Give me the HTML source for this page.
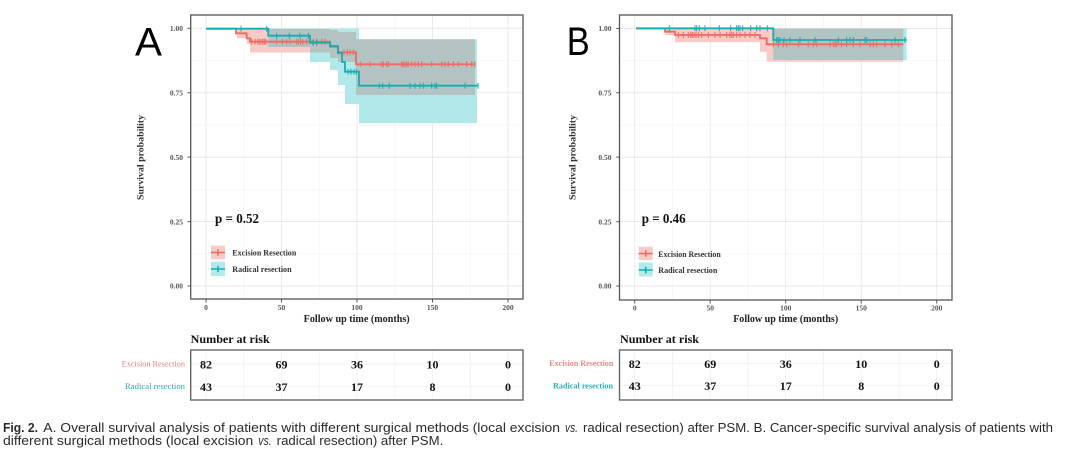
<!DOCTYPE html>
<html><head><meta charset="utf-8"><style>
html,body{margin:0;padding:0;background:#fff;}
svg{display:block;}
.ser{font-family:"Liberation Serif",serif;}
.san{font-family:"Liberation Sans",sans-serif;}
.tk{font-family:"Liberation Serif",serif;font-weight:bold;font-size:7.5px;fill:#555;}
</style></head><body>
<svg width="1080" height="458" viewBox="0 0 1080 458" xmlns="http://www.w3.org/2000/svg">
<defs>
  <clipPath id="tA"><path d="M268.3,28.5 H359 V39.3 H477 V123.3 H359 V104 H345 V85 H338 V70 H330 V62 H310 V47 H268.3 Z"/></clipPath>
  <clipPath id="tB"><path d="M773.3,28.5 H906.7 V60 H773.3 Z"/></clipPath>
</defs>
<rect width="1080" height="458" fill="#fff"/>

<!-- ================= PANEL A ================= -->
<g>
  <g stroke="#F3F3F3" stroke-width="0.6">
    <path d="M243.75,15V299M319.25,15V299M394.75,15V299M470.25,15V299"/>
    <path d="M190.7,60.5H523M190.7,124.9H523M190.7,189.4H523M190.7,253.8H523"/>
  </g>
  <g stroke="#E8E8E8" stroke-width="0.9">
    <path d="M206,15V299M281.5,15V299M357,15V299M432.5,15V299M508,15V299"/>
    <path d="M190.7,28.3H523M190.7,92.7H523M190.7,157.15H523M190.7,221.6H523M190.7,286H523"/>
  </g>
  <path fill="#F9CAC7" d="M236.7,29 H330 V30 H338 V32 H356 V39.3 H475 V95 H356 V62 H338 V58 H330 V52.5 H250 V44 H247 V38.3 H236.7 Z"/>
  <path fill="#B1E9EA" d="M268.3,28.5 H359 V39.3 H477 V123.3 H359 V104 H345 V85 H338 V70 H330 V62 H310 V47 H268.3 Z"/>
  <path clip-path="url(#tA)" fill="#B2C3C2" d="M236.7,29 H330 V30 H338 V32 H356 V39.3 H475 V95 H356 V62 H338 V58 H330 V52.5 H250 V44 H247 V38.3 H236.7 Z"/>
  <path fill="none" stroke="#EE6A62" stroke-width="1.8" d="M206,28.7 H236 V33.3 H246.7 V38.3 H250 V41.7 H330 V46.7 H338 V52.3 H356 V64.3 H475"/>
  <path fill="none" stroke="#EE6A62" stroke-width="1" d="M251.7,38.7v6M255,38.7v6M257.7,38.7v6M259.3,38.7v6M261,38.7v6M262.7,38.7v6M264.3,38.7v6M266,38.7v6M276.7,38.7v6M282.3,38.7v6M286.7,38.7v6M290,38.7v6M296.7,38.7v6M298.3,38.7v6M300.7,38.7v6M302.7,38.7v6M306.7,38.7v6M313.3,38.7v6M316.7,38.7v6M321.7,38.7v6M325,38.7v6M344,49.3v6M347.3,49.3v6M350,49.3v6M353.3,49.3v6M360.7,61.3v6M370,61.3v6M381.7,61.3v6M383.3,61.3v6M386.7,61.3v6M388.3,61.3v6M401.7,61.3v6M403.3,61.3v6M405,61.3v6M406.7,61.3v6M408.3,61.3v6M411.7,61.3v6M415,61.3v6M418.3,61.3v6M421.7,61.3v6M431.7,61.3v6M441.7,61.3v6M445,61.3v6M448.3,61.3v6M453.3,61.3v6M458.3,61.3v6M466.7,61.3v6M471.7,61.3v6M475,61.3v6"/>
  <path fill="none" stroke="#14ADB1" stroke-width="1.8" d="M206,28.7 H268.3 V35.7 H310 V42.7 H330 V46 H338 V53 H342 V62 H345 V71.7 H359 V85.7 H478"/>
  <path fill="none" stroke="#14ADB1" stroke-width="1" d="M241,25.7v6M266.7,25.7v6M276.7,32.7v6M289.3,32.7v6M300,32.7v6M308.3,32.7v6M313,39.7v6M316.7,39.7v6M348,68.7v6M351,68.7v6M354,68.7v6M356.3,68.7v6M379.3,82.7v6M382.7,82.7v6M389.3,82.7v6M410,82.7v6M415,82.7v6M420,82.7v6M423.3,82.7v6M431.7,82.7v6M435,82.7v6M436.7,82.7v6M465,82.7v6M478,82.7v6"/>
  <rect x="190.7" y="15" width="332.3" height="284" fill="none" stroke="#555" stroke-width="1.3"/>
  <path stroke="#555" stroke-width="1" d="M187.5,28.3H190.7M187.5,92.7H190.7M187.5,157.15H190.7M187.5,221.6H190.7M187.5,286H190.7M206,299V302.5M281.5,299V302.5M357,299V302.5M432.5,299V302.5M508,299V302.5"/>
  <g class="tk" text-anchor="end">
    <text x="183" y="31">1.00</text><text x="183" y="95.4">0.75</text><text x="183" y="159.9">0.50</text><text x="183" y="224.3">0.25</text><text x="183" y="288.7">0.00</text>
  </g>
  <g class="tk" text-anchor="middle">
    <text x="206" y="310">0</text><text x="281.5" y="310">50</text><text x="357" y="310">100</text><text x="432.5" y="310">150</text><text x="508" y="310">200</text>
  </g>
  <text class="ser" x="356.7" y="322" font-size="10" font-weight="bold" fill="#222" text-anchor="middle" textLength="106" lengthAdjust="spacingAndGlyphs">Follow up time (months)</text>
  <text class="ser" transform="translate(143.5,157.5) rotate(-90)" font-size="9.5" font-weight="bold" fill="#333" text-anchor="middle" textLength="85" lengthAdjust="spacingAndGlyphs">Survival probability</text>
  <text class="ser" x="215" y="223" font-size="14" font-weight="bold" fill="#111" textLength="44" lengthAdjust="spacingAndGlyphs">p = 0.52</text>
  <rect x="211" y="245.7" width="14" height="13.6" fill="#F8CBC8"/>
  <path stroke="#EE6A62" stroke-width="1.5" d="M211,252.5H225M218,249.3V255.7"/>
  <rect x="211" y="261.7" width="14" height="14.3" fill="#B5EAEB"/>
  <path stroke="#14ADB1" stroke-width="1.5" d="M211,269H225M218,265.8V272.2"/>
  <text class="ser" x="232.3" y="255.3" font-size="8" font-weight="bold" fill="#333" textLength="64" lengthAdjust="spacingAndGlyphs">Excision Resection</text>
  <text class="ser" x="232.3" y="272" font-size="8" font-weight="bold" fill="#333" textLength="59.3" lengthAdjust="spacingAndGlyphs">Radical resection</text>
  <text class="san" x="135" y="55.7" font-size="40" fill="#000" textLength="27" lengthAdjust="spacingAndGlyphs">A</text>

  <text class="ser" x="190.7" y="343" font-size="12" font-weight="bold" fill="#111" textLength="79" lengthAdjust="spacingAndGlyphs">Number at risk</text>
  <g stroke="#F0F0F0" stroke-width="0.8">
    <path d="M206,350V400M243.75,350V400M281.5,350V400M319.25,350V400M357,350V400M394.75,350V400M432.5,350V400M470.25,350V400M508,350V400M190.7,364H523M190.7,386.7H523"/>
  </g>
  <rect x="190.7" y="350" width="332.3" height="50" fill="none" stroke="#666" stroke-width="1.4"/>
  <g class="ser" font-size="12" font-weight="bold" fill="#111" text-anchor="middle">
    <text x="206" y="368.5">82</text><text x="281.5" y="368.5">69</text><text x="357" y="368.5">36</text><text x="432.5" y="368.5">10</text><text x="508" y="368.5">0</text>
    <text x="206" y="391">43</text><text x="281.5" y="391">37</text><text x="357" y="391">17</text><text x="432.5" y="391">8</text><text x="508" y="391">0</text>
  </g>
  <text class="ser" x="185" y="366.7" font-size="8" fill="#E57E77" text-anchor="end" textLength="63.3" lengthAdjust="spacingAndGlyphs">Excision Resection</text>
  <text class="ser" x="185" y="389.2" font-size="8" fill="#1FB0B3" text-anchor="end" textLength="60" lengthAdjust="spacingAndGlyphs">Radical resection</text>
</g>

<!-- ================= PANEL B ================= -->
<g>
  <g stroke="#F3F3F3" stroke-width="0.6">
    <path d="M672.45,15V300M747.95,15V300M823.45,15V300M898.95,15V300"/>
    <path d="M619.5,60.5H952M619.5,124.9H952M619.5,189.4H952M619.5,253.8H952"/>
  </g>
  <g stroke="#E8E8E8" stroke-width="0.9">
    <path d="M634.7,15V300M710.2,15V300M785.7,15V300M861.2,15V300M936.7,15V300"/>
    <path d="M619.5,28.5H952M619.5,92.7H952M619.5,157.15H952M619.5,221.6H952M619.5,286H952"/>
  </g>
  <path fill="#F9CAC7" d="M665,28.5 H903.3 V61.7 H766.7 V51.7 H760 V42.3 H675 V35 H665 Z"/>
  <path fill="#B1E9EA" d="M773.3,28.5 H906.7 V60 H773.3 Z"/>
  <path clip-path="url(#tB)" fill="#B2C3C2" d="M665,28.5 H903.3 V61.7 H766.7 V51.7 H760 V42.3 H675 V35 H665 Z"/>
  <path fill="none" stroke="#EE6A62" stroke-width="1.8" d="M636,28.5 H665 V31.7 H675 V35 H760 V38.3 H766.7 V44.3 H903.3"/>
  <path fill="none" stroke="#EE6A62" stroke-width="1" d="M678.3,32v6M683.3,32v6M688.3,32v6M690.7,32v6M692.3,32v6M694,32v6M696,32v6M698.3,32v6M701.7,32v6M708.3,32v6M715,32v6M720,32v6M726.7,32v6M730,32v6M731.7,32v6M733.3,32v6M736.7,32v6M740,32v6M745,32v6M750,32v6M755,32v6M773.3,41.3v6M778.3,41.3v6M783.3,41.3v6M786.7,41.3v6M798.3,41.3v6M808.3,41.3v6M813.3,41.3v6M816.7,41.3v6M830,41.3v6M833.3,41.3v6M835,41.3v6M836.7,41.3v6M841.7,41.3v6M846.7,41.3v6M853.3,41.3v6M860,41.3v6M870,41.3v6M873.3,41.3v6M876.7,41.3v6M885,41.3v6M891.7,41.3v6M898.3,41.3v6"/>
  <path fill="none" stroke="#14ADB1" stroke-width="1.8" d="M636,28.3 H773.3 V40 H906.7"/>
  <path fill="none" stroke="#14ADB1" stroke-width="1" d="M669.3,25.3v6M695,25.3v6M696.7,25.3v6M699.3,25.3v6M705,25.3v6M719.3,25.3v6M730.7,25.3v6M736.7,25.3v6M738.3,25.3v6M740,25.3v6M742.7,25.3v6M750.7,25.3v6M756.7,25.3v6M760,25.3v6M767.3,25.3v6M776.7,37v6M778.3,37v6M780,37v6M784,37v6M790,37v6M800,37v6M815,37v6M838.3,37v6M846.7,37v6M850,37v6M853.3,37v6M865,37v6M866.7,37v6M895,37v6M905,37v6"/>
  <rect x="619.5" y="15" width="332.5" height="285" fill="none" stroke="#555" stroke-width="1.3"/>
  <path stroke="#555" stroke-width="1" d="M616.3,28.5H619.5M616.3,92.7H619.5M616.3,157.15H619.5M616.3,221.6H619.5M616.3,286H619.5M634.7,300V303.5M710.2,300V303.5M785.7,300V303.5M861.2,300V303.5M936.7,300V303.5"/>
  <g class="tk" text-anchor="end">
    <text x="611.5" y="31.2">1.00</text><text x="611.5" y="95.4">0.75</text><text x="611.5" y="159.9">0.50</text><text x="611.5" y="224.3">0.25</text><text x="611.5" y="288.7">0.00</text>
  </g>
  <g class="tk" text-anchor="middle">
    <text x="634.7" y="310.5">0</text><text x="710.2" y="310.5">50</text><text x="785.7" y="310.5">100</text><text x="861.2" y="310.5">150</text><text x="936.7" y="310.5">200</text>
  </g>
  <text class="ser" x="785.7" y="322" font-size="10" font-weight="bold" fill="#222" text-anchor="middle" textLength="105" lengthAdjust="spacingAndGlyphs">Follow up time (months)</text>
  <text class="ser" transform="translate(575.5,157.5) rotate(-90)" font-size="9.5" font-weight="bold" fill="#333" text-anchor="middle" textLength="85" lengthAdjust="spacingAndGlyphs">Survival probability</text>
  <text class="ser" x="641.7" y="223" font-size="14" font-weight="bold" fill="#111" textLength="44" lengthAdjust="spacingAndGlyphs">p = 0.46</text>
  <rect x="638.7" y="246.7" width="14" height="13.3" fill="#F8CBC8"/>
  <path stroke="#EE6A62" stroke-width="1.5" d="M638.7,253.5H652.7M645.7,250.3V256.7"/>
  <rect x="638.7" y="262.5" width="14" height="14" fill="#B5EAEB"/>
  <path stroke="#14ADB1" stroke-width="1.5" d="M638.7,270H652.7M645.7,266.8V273.2"/>
  <text class="ser" x="658.3" y="257" font-size="8" font-weight="bold" fill="#333" textLength="62.4" lengthAdjust="spacingAndGlyphs">Excision Resection</text>
  <text class="ser" x="658.3" y="273" font-size="8" font-weight="bold" fill="#333" textLength="59" lengthAdjust="spacingAndGlyphs">Radical resection</text>
  <text class="san" x="566.7" y="55" font-size="40" fill="#000" textLength="23" lengthAdjust="spacingAndGlyphs">B</text>

  <text class="ser" x="620" y="343" font-size="12" font-weight="bold" fill="#111" textLength="79" lengthAdjust="spacingAndGlyphs">Number at risk</text>
  <g stroke="#F0F0F0" stroke-width="0.8">
    <path d="M634.7,350V400M672.45,350V400M710.2,350V400M747.95,350V400M785.7,350V400M823.45,350V400M861.2,350V400M898.95,350V400M936.7,350V400M619.5,363.3H952M619.5,385.7H952"/>
  </g>
  <rect x="619.5" y="350" width="332.5" height="50" fill="none" stroke="#666" stroke-width="1.4"/>
  <g class="ser" font-size="12" font-weight="bold" fill="#111" text-anchor="middle">
    <text x="634.7" y="367.8">82</text><text x="710.2" y="367.8">69</text><text x="785.7" y="367.8">36</text><text x="861.2" y="367.8">10</text><text x="936.7" y="367.8">0</text>
    <text x="634.7" y="390.2">43</text><text x="710.2" y="390.2">37</text><text x="785.7" y="390.2">17</text><text x="861.2" y="390.2">8</text><text x="936.7" y="390.2">0</text>
  </g>
  <text class="ser" x="613.3" y="366.2" font-size="8" font-weight="bold" fill="#E58A84" text-anchor="end" textLength="64" lengthAdjust="spacingAndGlyphs">Excision Resection</text>
  <text class="ser" x="613" y="388.5" font-size="8" font-weight="bold" fill="#25B0B3" text-anchor="end" textLength="60" lengthAdjust="spacingAndGlyphs">Radical resection</text>
</g>

<!-- ================= CAPTION ================= -->
<g class="san" font-size="12.8" fill="#2a2a2a">
  <text x="3" y="432" font-weight="bold" textLength="35" lengthAdjust="spacingAndGlyphs">Fig. 2.</text>
  <text x="43.3" y="432" textLength="516.7" lengthAdjust="spacingAndGlyphs">A. Overall survival analysis of patients with different surgical methods (local excision</text>
  <text x="565" y="432" font-style="italic" textLength="13" lengthAdjust="spacingAndGlyphs">vs.</text>
  <text x="583" y="432" textLength="470" lengthAdjust="spacingAndGlyphs">radical resection) after PSM. B. Cancer-specific survival analysis of patients with</text>
  <text x="3" y="445" textLength="250.3" lengthAdjust="spacingAndGlyphs">different surgical methods (local excision</text>
  <text x="258.3" y="445" font-style="italic" textLength="13.4" lengthAdjust="spacingAndGlyphs">vs.</text>
  <text x="276.7" y="445" textLength="166.6" lengthAdjust="spacingAndGlyphs">radical resection) after PSM.</text>
</g>
</svg>
</body></html>
